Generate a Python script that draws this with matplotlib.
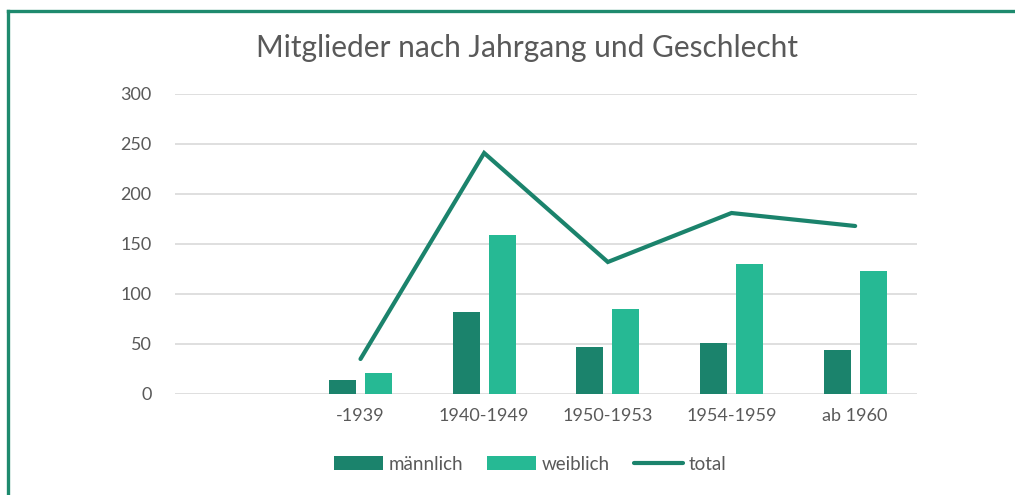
import numpy as np
import matplotlib
matplotlib.use("Agg")
import matplotlib.pyplot as plt
from matplotlib.lines import Line2D

plt.rcParams['font.family'] = ['Lato', 'DejaVu Sans']

# Daten
jahrgaenge = ["", "-1939", "1940-1949", "1950-1953", "1954-1959", "ab 1960"]
maennlich = [np.nan, 14, 82, 47, 51, 44]
weiblich = [np.nan, 21, 159, 85, 130, 123]
total = [np.nan, 35, 241, 132, 181, 168]

c_m = "#1B836C"
c_w = "#26B994"
grau = "#595959"

fig = plt.figure(figsize=(10.15, 4.95), dpi=100)
ax = fig.add_axes([175/1015, 1-394/495, 742/1015, 300/495])

x = np.arange(len(jahrgaenge))
bw = 0.22
off = 0.146
b1 = ax.bar(x - off, maennlich, bw, color=c_m, label="männlich", zorder=3)
b2 = ax.bar(x + off, weiblich, bw, color=c_w, label="weiblich", zorder=3)
l1, = ax.plot(x, total, color=c_m, lw=3, solid_capstyle="round", solid_joinstyle="miter", label="total", zorder=4)

ax.set_xlim(-0.5, len(jahrgaenge) - 0.5)
ax.set_ylim(0, 300)
ax.set_yticks(range(0, 301, 50))
ax.set_xticks(x)
ax.set_xticklabels(jahrgaenge)
ax.grid(axis="y", color="#D9D9D9", lw=1.2, zorder=0)
for s in ax.spines.values():
    s.set_visible(False)
ax.tick_params(length=0, labelsize=13, labelcolor=grau)
ax.tick_params(axis="y", pad=17)
ax.tick_params(axis="x", pad=10)

fig.text(527/1015, 1-48/495, "Mitglieder nach Jahrgang und Geschlecht", ha="center", va="center",
         fontsize=21.5, color=grau)

leg = fig.legend([b1, b2, l1], ["männlich", "weiblich", "total"], loc="center",
                 bbox_to_anchor=(530/1015, 1-464/495), ncol=3, frameon=False,
                 fontsize=13.5, handlelength=2.6, handletextpad=0.3, columnspacing=1.3)
for t in leg.get_texts():
    t.set_color(grau)

# Rahmen
fig.add_artist(Line2D([8/1015, 1], [1-10.5/495, 1-10.5/495], color="#1E8A6E", lw=2.4, transform=fig.transFigure))
fig.add_artist(Line2D([8/1015, 8/1015], [0, 1-10.5/495], color="#1E8A6E", lw=2.4, transform=fig.transFigure))

fig.savefig("out.png", dpi=100)
